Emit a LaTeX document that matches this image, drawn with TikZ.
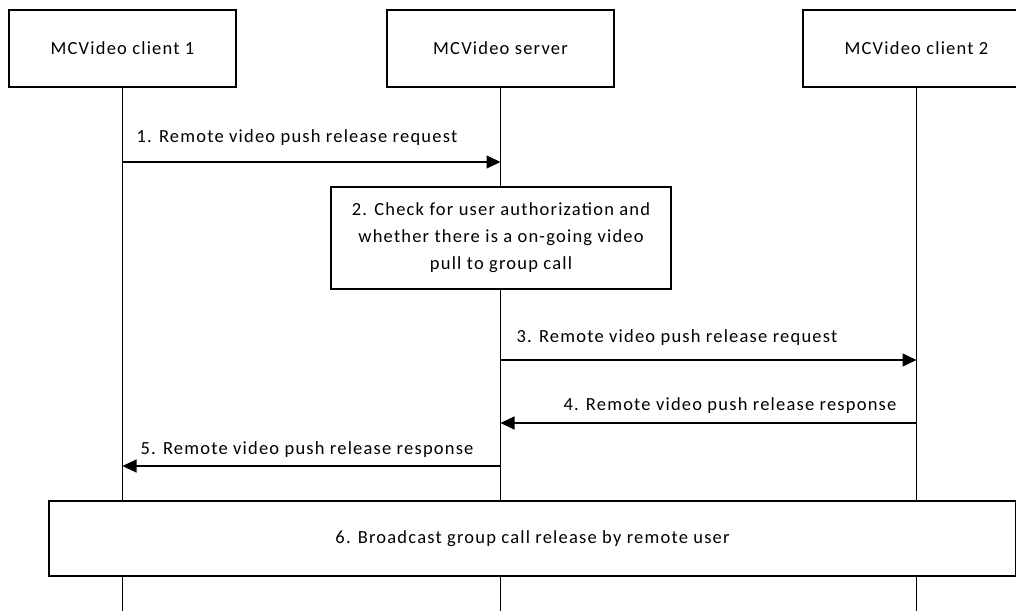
\documentclass[tikz,border=0pt]{standalone}
\usepackage{fontspec}
\setmainfont{Carlito}[LetterSpace=6.5]
\usetikzlibrary{arrows.meta}

\begin{document}
\begin{tikzpicture}[x=1pt,y=-1pt,line width=1.3pt,
    entity/.style={draw,minimum width=227pt,minimum height=77pt,inner sep=0pt},
    action/.style={draw,fill=white,align=center,inner sep=0pt},
    msg/.style={-{Triangle[length=14pt,width=13pt]}},
    msglabel/.style={inner sep=0pt}]
  \useasboundingbox (0,0) rectangle (1016,611);
  \fontsize{18.5}{27}\selectfont
  % entities
  \node[entity] (c1) at (122.5,48.5) {MCVideo client 1};
  \node[entity] (srv) at (500.5,48.5) {MCVideo server};
  \node[entity] (c2) at (916.5,48.5) {MCVideo client 2};
  % lifelines
  \foreach \e in {c1,srv,c2}{
    \coordinate (\e-end) at (\e |- 0,611);
    \draw (\e.south) -- (\e-end);}
  % 1
  \coordinate (m1a) at (c1 |- 0,162);
  \coordinate (m1b) at (srv |- 0,162);
  \draw[msg] (m1a) -- (m1b);
  \node[msglabel,anchor=west] (l1) at (136,138) {1. Remote video push release request};
  % 2
  \node[action,minimum width=340pt,minimum height=102pt] (chk) at (501,238)
    {2. Check for user authorization and\\whether there is a on-going video\\pull to group call};
  % 3
  \coordinate (m3a) at (srv |- 0,360);
  \coordinate (m3b) at (c2 |- 0,360);
  \draw[msg] (m3a) -- (m3b);
  \node[msglabel,anchor=west] (l3) at (516,338) {3. Remote video push release request};
  % 4
  \coordinate (m4a) at (c2 |- 0,423);
  \coordinate (m4b) at (srv |- 0,423);
  \draw[msg] (m4a) -- (m4b);
  \node[msglabel,anchor=east] (l4) at (897,406) {4. Remote video push release response};
  % 5
  \coordinate (m5a) at (srv |- 0,466);
  \coordinate (m5b) at (c1 |- 0,466);
  \draw[msg] (m5a) -- (m5b);
  \node[msglabel,anchor=west] (l5) at (140,450) {5. Remote video push release response};
  % 6
  \node[action,minimum width=967pt,minimum height=75pt] (bc) at (532.5,538.5)
    {6. Broadcast group call release by remote user};
\end{tikzpicture}
\end{document}
